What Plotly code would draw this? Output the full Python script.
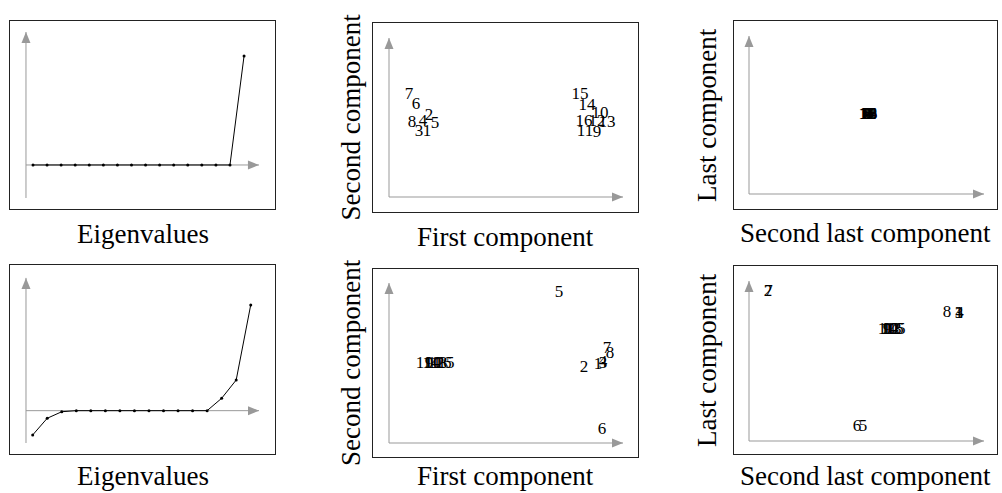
import plotly.graph_objects as go

W, H = 1002, 493

# ---------------- data ----------------
eig_index = list(range(1, 17))
eig_top = [0.0] * 15 + [1.0]
eig_bottom = [-0.23, -0.072, -0.01, 0, 0, 0, 0, 0, 0, 0, 0, 0, 0, 0.117, 0.29, 1.0]

labels = [str(i) for i in range(1, 17)]

# top row: first vs second component
top_first = [0.38, 0.40, 0.30, 0.34, 0.46, 0.27, 0.20, 0.23,
             2.08, 2.11, 1.96, 2.08, 2.18, 1.98, 1.91, 1.95]
top_second = [0.65, 0.81, 0.65, 0.75, 0.73, 0.92, 1.02, 0.74,
              0.64, 0.83, 0.65, 0.75, 0.74, 0.91, 1.02, 0.75]
# top row: second last vs last component
top_secondlast = [1.19, 1.185, 1.195, 1.19, 1.18, 1.20, 1.19, 1.185,
                  1.19, 1.195, 1.185, 1.19, 1.20, 1.18, 1.19, 1.195]
top_last = [0.79, 0.792, 0.788, 0.79, 0.791, 0.789, 0.79, 0.792,
            0.788, 0.79, 0.791, 0.789, 0.79, 0.792, 0.788, 0.79]

# bottom row: first vs second component
bot_first = [2.09, 1.95, 2.14, 2.14, 1.70, 2.13, 2.18, 2.21,
             0.40, 0.44, 0.35, 0.47, 0.50, 0.42, 0.57, 0.54]
bot_second = [0.78, 0.75, 0.79, 0.80, 1.50, 0.13, 0.94, 0.89,
              0.795, 0.795, 0.795, 0.795, 0.795, 0.795, 0.795, 0.795]
# bottom row: second last vs last component
bot_secondlast = [2.10, 0.19, 2.10, 2.105, 1.14, 1.08, 0.195, 1.98,
                  1.38, 1.40, 1.37, 1.42, 1.44, 1.41, 1.48, 1.46]
bot_last = [1.27, 1.49, 1.272, 1.268, 0.14, 0.14, 1.49, 1.28,
            1.11, 1.11, 1.11, 1.11, 1.11, 1.11, 1.11, 1.11]

# ---------------- layout helpers ----------------
# panel boxes in pixels: (left, top, right, bottom)
boxes = [
    (10, 21, 275, 209), (373, 23, 638, 212), (734, 21, 997, 209),
    (10, 265, 275, 454), (373, 269, 638, 457), (734, 266, 997, 454),
]
ranges = [
    ((-0.635, 18.2), (-0.404, 1.321)),
    ((-0.16, 2.49), (-0.15, 1.74)),
    ((-0.15, 2.48), (-0.15, 1.73)),
    ((-0.56, 17.67), (-0.41, 1.378)),
    ((-0.16, 2.49), (-0.14, 1.74)),
    ((-0.15, 2.48), (-0.13, 1.75)),
]
# arrow origin and tips (data coords)
arrows = [
    ((0.5, 0.0), 17.06, (-0.303, 1.22)),
    ((0.0, 0.0), 2.34, (0.0, 1.59)),
    ((0.0, 0.0), 2.35, (0.0, 1.58)),
    ((0.54, 0.0), 16.57, (-0.306, 1.256)),
    ((0.0, 0.0), 2.34, (0.0, 1.60)),
    ((0.0, 0.0), 2.35, (0.0, 1.60)),
]

fig = go.Figure()
layout = dict(width=W, height=H, margin=dict(l=0, r=0, t=0, b=0),
              paper_bgcolor="white", plot_bgcolor="white", showlegend=False)
shapes = []
GRAY = "#999999"

for k, (box, (xr, yr)) in enumerate(zip(boxes, ranges)):
    n = "" if k == 0 else str(k + 1)
    l, t, r, b = box
    ax = dict(domain=[l / W, r / W], range=list(xr), showgrid=False, zeroline=False,
              showticklabels=False, ticks="", showline=True, mirror=True,
              linecolor="#222222", linewidth=1, fixedrange=True)
    ay = dict(domain=[1 - b / H, 1 - t / H], range=list(yr), showgrid=False, zeroline=False,
              showticklabels=False, ticks="", showline=True, mirror=True,
              linecolor="#222222", linewidth=1, fixedrange=True)
    ax["anchor"] = "y" + n
    ay["anchor"] = "x" + n
    layout["xaxis" + n] = ax
    layout["yaxis" + n] = ay
    (ox, oy), xtip, (ybot, ytip) = arrows[k]
    xref, yref = "x" + n, "y" + n
    shapes.append(dict(type="line", xref=xref, yref=yref, x0=ox, x1=xtip, y0=oy, y1=oy,
                       line=dict(color=GRAY, width=1), layer="below"))
    shapes.append(dict(type="line", xref=xref, yref=yref, x0=ox, x1=ox, y0=ybot, y1=ytip,
                       line=dict(color=GRAY, width=1), layer="below"))
    shapes.append(dict(type="path", xref=xref, yref=yref, xsizemode="pixel", ysizemode="pixel",
                       xanchor=xtip, yanchor=oy, path="M0,0L-11,4.5L-11,-4.5Z",
                       fillcolor=GRAY, line=dict(width=0), layer="below"))
    shapes.append(dict(type="path", xref=xref, yref=yref, xsizemode="pixel", ysizemode="pixel",
                       xanchor=ox, yanchor=ytip, path="M0,0L-4.5,-11L4.5,-11Z",
                       fillcolor=GRAY, line=dict(width=0), layer="below"))

layout["shapes"] = shapes

line_style = dict(color="black", width=1)
mk = dict(color="black", size=3)
fig.add_trace(go.Scatter(x=eig_index, y=eig_top, mode="lines+markers", line=line_style,
                         marker=mk, xaxis="x", yaxis="y"))
fig.add_trace(go.Scatter(x=eig_index, y=eig_bottom, mode="lines+markers", line=line_style,
                         marker=mk, xaxis="x4", yaxis="y4"))

tf = dict(family="Liberation Serif", size=17, color="black")
for xs, ys, n in [(top_first, top_second, "2"), (top_secondlast, top_last, "3"),
                  (bot_first, bot_second, "5"), (bot_secondlast, bot_last, "6")]:
    fig.add_trace(go.Scatter(x=xs, y=ys, text=labels, mode="text", textfont=tf,
                             textposition="middle center", xaxis="x" + n, yaxis="y" + n,
                             hoverinfo="text"))

lf = dict(family="Liberation Serif", size=27, color="black")
ann = []
def lab(text, px, py, angle=0, yanchor="middle"):
    ann.append(dict(text=text, x=px / W, y=1 - py / H, xref="paper", yref="paper",
                    showarrow=False, xanchor="center", yanchor=yanchor,
                    textangle=angle, font=lf))

lab("Eigenvalues", 142.5, 234)
lab("Eigenvalues", 142.5, H, yanchor="bottom")
lab("First component", 505.5, 237)
lab("First component", 505.5, H, yanchor="bottom")
lab("Second component", 351, 117.5, -90)
lab("Second component", 351, 363, -90)
lab("Second last component", 865.5, 233)
lab("Second last component", 865.5, H, yanchor="bottom")
lab("Last component", 707, 115, -90)
lab("Last component", 707, 360, -90)
layout["annotations"] = ann

fig.update_layout(**layout)
fig.write_html("out.html", config={"displayModeBar": False},
               post_script="document.body.style.margin='0';")
